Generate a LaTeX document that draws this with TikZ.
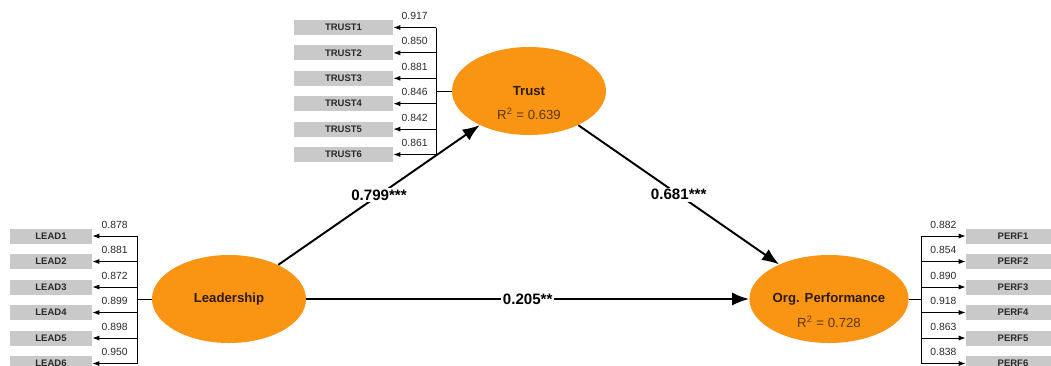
\documentclass[tikz,border=0pt]{standalone}
\usepackage{fontspec}
\setmainfont{Liberation Sans}
\usetikzlibrary{arrows.meta, positioning, calc, shapes.geometric}
\definecolor{lvorange}{HTML}{FA9514}
\definecolor{mvgray}{HTML}{C9C9C9}
\definecolor{dktext}{HTML}{2A2A2A}
\definecolor{lvtext}{HTML}{2E1A00}
\definecolor{rsqtext}{HTML}{5A3600}

\tikzset{
  latent/.style={ellipse, fill=lvorange, minimum width=30.8mm, minimum height=17.6mm,
    inner sep=0pt, font=\fontsize{7.5}{9}\selectfont\bfseries, text=lvtext},
  rsq/.style={font=\fontsize{7.5}{9}\selectfont, text=rsqtext, inner sep=0pt},
  indic/.style={fill=mvgray, minimum height=3mm, inner sep=0pt,
    font=\fontsize{5.4}{6}\selectfont\bfseries, text=dktext},
  loading/.style={-{Latex[length=1.4mm, width=1mm]}, line width=0.5pt},
  lval/.style={font=\fontsize{5.9}{7}\selectfont, text=dktext, inner sep=1pt, above=3.2pt},
  spine/.style={line width=0.5pt},
  structural/.style={-{Latex[length=3.4mm, width=2.6mm]}, line width=1.1pt},
  coef/.style={fill=white, inner sep=1pt, font=\fontsize{8.6}{10}\selectfont\bfseries}
}

\begin{document}
\begin{tikzpicture}[x=0.2mm, y=-0.2mm]

% Canvas
\useasboundingbox[fill=white] (0,0) rectangle (1051,365);

% Latent variables
\node[latent] (lead) at (229,299) {Leadership};
\node[latent] (trust) at (529,91) {Trust};
\node[rsq] (trustr2) at ($(trust)+(0,23)$) {R\textsuperscript{2} = 0.639};
\node[latent] (org) at (829,299) {Org. Performance};
\node[rsq] (orgr2) at ($(org)+(0,23)$) {R\textsuperscript{2} = 0.728};

% Trust indicators
\foreach \i/\v in {1/0.917, 2/0.850, 3/0.881, 4/0.846, 5/0.842, 6/0.861} {
  \node[indic, minimum width=19.8mm] (trust\i) at (343.5,{27.5+25.4*(\i-1)}) {TRUST\i};
  \coordinate (tj\i) at (436,{27.5+25.4*(\i-1)});
  \draw[loading] (tj\i) -- (trust\i) node[midway, lval] {\v};
}
\draw[spine] (tj1) -- (tj6);
\draw[spine] (trust.west) -- (trust.west -| tj1);

% Leadership indicators
\foreach \i/\v in {1/0.878, 2/0.881, 3/0.872, 4/0.899, 5/0.898, 6/0.950} {
  \node[indic, minimum width=16.4mm] (lead\i) at (51,{236+25.5*(\i-1)}) {LEAD\i};
  \coordinate (lj\i) at (137,{236+25.5*(\i-1)});
  \draw[loading] (lj\i) -- (lead\i) node[midway, lval] {\v};
}
\draw[spine] (lj1) -- (lj6);
\draw[spine] (lead.west) -- (lead.west -| lj1);

% Performance indicators
\foreach \i/\v in {1/0.882, 2/0.854, 3/0.890, 4/0.918, 5/0.863, 6/0.838} {
  \node[indic, minimum width=18.8mm] (perf\i) at (1013,{236+25.5*(\i-1)}) {PERF\i};
  \coordinate (pj\i) at (921,{236+25.5*(\i-1)});
  \draw[loading] (pj\i) -- (perf\i) node[midway, lval] {\v};
}
\draw[spine] (pj1) -- (pj6);
\draw[spine] (org.east) -- (org.east -| pj1);

% Structural paths
\draw[structural] (lead) -- (trust) node[midway, coef] {0.799***};
\draw[structural] (trust) -- (org) node[midway, coef] {0.681***};
\draw[structural] (lead) -- (org) node[midway, coef] {0.205**};

\end{tikzpicture}
\end{document}
